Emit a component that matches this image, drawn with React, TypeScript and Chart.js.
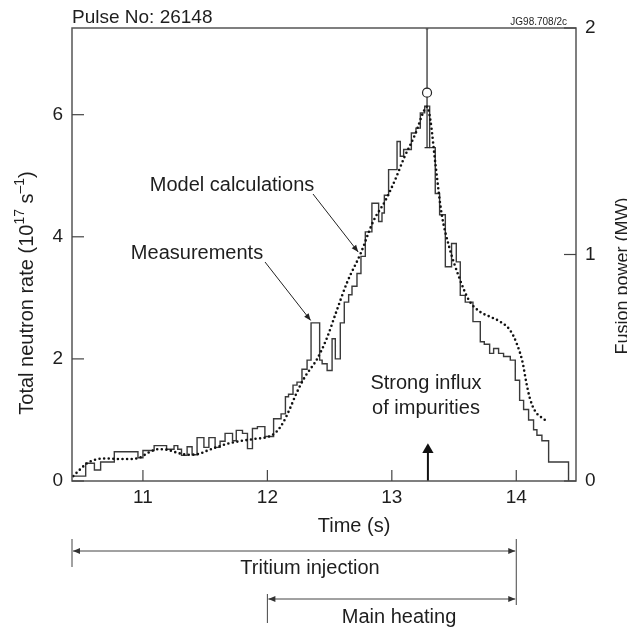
import React, { useEffect, useRef } from 'react';
import { Chart, registerables } from 'chart.js';

Chart.register(...registerables);

// ---- axis ranges & ticks ----
const xRange = [10.43, 14.48];
const leftRange = [0, 7.42];
const rightRange = [0, 2];
const xTicks = [11, 12, 13, 14];
const leftTicks = [0, 2, 4, 6];
const rightTicks = [0, 1, 2];

// ---- measured neutron rate (histogram steps: value starts at time) ----
const measTimes = [10.44, 10.54, 10.61, 10.66, 10.77, 10.96, 11.0, 11.09, 11.19, 11.25, 11.28, 11.31, 11.355, 11.395, 11.435, 11.49, 11.53, 11.58, 11.62, 11.66, 11.72, 11.75, 11.8, 11.84, 11.88, 11.92, 11.98, 12.05, 12.11, 12.145, 12.17, 12.206, 12.238, 12.278, 12.319, 12.351, 12.42, 12.44, 12.48, 12.52, 12.546, 12.586, 12.618, 12.653, 12.68, 12.72, 12.752, 12.787, 12.84, 12.894, 12.921, 12.94, 12.974, 13.042, 13.068, 13.095, 13.157, 13.194, 13.229, 13.264, 13.304, 13.349, 13.384, 13.43, 13.48, 13.518, 13.55, 13.59, 13.652, 13.711, 13.743, 13.786, 13.818, 13.858, 13.898, 13.952, 13.992, 14.027, 14.059, 14.099, 14.139, 14.166, 14.206, 14.26, 14.42];
const measValues = [0.08, 0.29, 0.18, 0.31, 0.48, 0.38, 0.5, 0.58, 0.52, 0.58, 0.52, 0.42, 0.56, 0.43, 0.71, 0.55, 0.71, 0.55, 0.65, 0.78, 0.66, 0.83, 0.78, 0.53, 0.86, 0.89, 0.73, 1.02, 1.1, 1.38, 1.42, 1.57, 1.62, 1.83, 1.98, 2.59, 1.98, 1.92, 1.81, 2.33, 2.0, 2.59, 2.93, 3.05, 3.19, 3.4, 3.68, 4.08, 4.55, 4.25, 4.39, 4.68, 5.1, 5.56, 5.32, 5.43, 5.7, 5.78, 6.03, 6.14, 5.46, 4.71, 4.36, 3.51, 3.89, 3.59, 3.04, 2.93, 2.61, 2.28, 2.24, 2.09, 2.17, 2.09, 2.04, 1.98, 1.65, 1.32, 1.17, 1.0, 0.84, 0.75, 0.66, 0.31, 0];

// ---- model calculation (dotted) ----
const modelTimes = [10.44, 10.5, 10.55, 10.62, 10.7, 10.8, 10.9, 10.97, 11.05, 11.12, 11.2, 11.28, 11.36, 11.44, 11.52, 11.6, 11.7, 11.8, 11.9, 12.0, 12.07, 12.13, 12.18, 12.23, 12.3, 12.4, 12.48, 12.55, 12.64, 12.75, 12.85, 12.95, 13.03, 13.1, 13.19, 13.255, 13.283, 13.31, 13.35, 13.4, 13.46, 13.54, 13.62, 13.71, 13.79, 13.87, 13.95, 14.0, 14.05, 14.08, 14.11, 14.15, 14.23];
const modelValues = [0.08, 0.2, 0.29, 0.35, 0.37, 0.36, 0.36, 0.38, 0.47, 0.52, 0.51, 0.46, 0.43, 0.44, 0.5, 0.56, 0.62, 0.66, 0.69, 0.72, 0.8, 0.97, 1.18, 1.42, 1.7, 2.0, 2.35, 2.75, 3.25, 3.73, 4.25, 4.6, 4.95, 5.3, 5.69, 6.05, 6.13, 5.91, 5.2, 4.38, 3.84, 3.34, 2.96, 2.77, 2.69, 2.61, 2.47, 2.27, 1.95, 1.62, 1.35, 1.15, 1.0];

// ---- peak point with error bar ----
const peakTime = 13.283;
const peakValue = 6.36;
const errLow = 5.46;
const errHigh = 7.42;
const errCapHalf = 0.02;

// ---- impurity influx arrow ----
const impurityTime = 13.29;
const impurityArrow = [0, 0.51];

// ---- annotation targets ----
const measArrowTip = [12.348, 2.63];
const modelArrowTip = [12.73, 3.75];
const tritiumSpan = [10.43, 14.0];
const heatingSpan = [12.0, 14.0];

const FONT = "'Liberation Sans', Arial, Helvetica, sans-serif";
const TEXT = '#1e1e1e';

function head(ctx: CanvasRenderingContext2D, x1: number, y1: number, x2: number, y2: number, len: number, w: number) {
  const a = Math.atan2(y2 - y1, x2 - x1);
  ctx.beginPath();
  ctx.moveTo(x2, y2);
  ctx.lineTo(x2 - len * Math.cos(a) + w * Math.sin(a), y2 - len * Math.sin(a) - w * Math.cos(a));
  ctx.lineTo(x2 - len * Math.cos(a) - w * Math.sin(a), y2 - len * Math.sin(a) + w * Math.cos(a));
  ctx.closePath();
  ctx.fill();
}

function line(ctx: CanvasRenderingContext2D, x1: number, y1: number, x2: number, y2: number) {
  ctx.beginPath();
  ctx.moveTo(x1, y1);
  ctx.lineTo(x2, y2);
  ctx.stroke();
}

const overlay = {
  id: 'overlay',
  afterDraw(chart: any) {
    const ctx: CanvasRenderingContext2D = chart.ctx;
    const ca = chart.chartArea;
    const xs = chart.scales.x;
    const ys = chart.scales.y;
    const ys1 = chart.scales.y1;
    ctx.save();

    // frame
    ctx.strokeStyle = '#555';
    ctx.lineWidth = 1.5;
    ctx.strokeRect(ca.left, ca.top, ca.right - ca.left, ca.bottom - ca.top);

    // inward ticks
    ctx.lineWidth = 1.2;
    ctx.strokeStyle = '#444';
    leftTicks.forEach((v) => {
      const y = ys.getPixelForValue(v);
      line(ctx, ca.left, y, ca.left + 12, y);
    });
    rightTicks.forEach((v) => {
      const y = ys1.getPixelForValue(v);
      line(ctx, ca.right - 12, y, ca.right, y);
    });
    xTicks.forEach((v) => {
      const x = xs.getPixelForValue(v);
      line(ctx, x, ca.bottom, x, ca.bottom - 11);
    });

    ctx.fillStyle = TEXT;
    ctx.textBaseline = 'middle';

    // header texts
    ctx.font = `19px ${FONT}`;
    ctx.textAlign = 'left';
    ctx.fillText('Pulse No: 26148', 72, 18);
    ctx.font = `10px ${FONT}`;
    ctx.textAlign = 'right';
    ctx.fillText('JG98.708/2c', 567, 22);

    // annotations in the plot
    ctx.font = `20px ${FONT}`;
    ctx.textAlign = 'center';
    ctx.fillText('Model calculations', 232, 185);
    ctx.fillText('Measurements', 197, 253);
    ctx.fillText('Strong influx', 426, 383);
    ctx.fillText('of impurities', 426, 408);

    ctx.strokeStyle = '#222';
    ctx.fillStyle = '#222';
    ctx.lineWidth = 1;
    {
      const tx = xs.getPixelForValue(modelArrowTip[0]);
      const ty = ys.getPixelForValue(modelArrowTip[1]);
      line(ctx, 313, 194, tx, ty);
      head(ctx, 313, 194, tx, ty, 7, 2.8);
    }
    {
      const tx = xs.getPixelForValue(measArrowTip[0]);
      const ty = ys.getPixelForValue(measArrowTip[1]);
      line(ctx, 265, 262, tx, ty);
      head(ctx, 265, 262, tx, ty, 7, 2.8);
    }

    // axis titles
    ctx.fillStyle = TEXT;
    ctx.font = `20px ${FONT}`;
    ctx.textAlign = 'center';
    ctx.fillText('Time (s)', 354, 526);

    // left title with superscripts
    ctx.save();
    ctx.translate(27, 293);
    ctx.rotate(-Math.PI / 2);
    const parts = [
      { t: 'Total neutron rate (10', sup: false },
      { t: '17', sup: true },
      { t: ' s', sup: false },
      { t: '–1', sup: true },
      { t: ')', sup: false },
    ];
    const big = `20px ${FONT}`;
    const small = `14px ${FONT}`;
    let total = 0;
    parts.forEach((p) => {
      ctx.font = p.sup ? small : big;
      total += ctx.measureText(p.t).width;
    });
    let cx = -total / 2;
    ctx.textAlign = 'left';
    parts.forEach((p) => {
      ctx.font = p.sup ? small : big;
      ctx.fillText(p.t, cx, p.sup ? -7 : 0);
      cx += ctx.measureText(p.t).width;
    });
    ctx.restore();

    // right title (partly cut by the right edge, as in the original)
    ctx.save();
    ctx.translate(623, 276);
    ctx.rotate(-Math.PI / 2);
    ctx.font = `18px ${FONT}`;
    ctx.textAlign = 'center';
    ctx.fillText('Fusion power (MW)', 0, 0);
    ctx.restore();

    // bottom spans
    const xl = xs.getPixelForValue(tritiumSpan[0]);
    const xr = xs.getPixelForValue(tritiumSpan[1]);
    const xh = xs.getPixelForValue(heatingSpan[0]);
    const xhr = xs.getPixelForValue(heatingSpan[1]);
    ctx.strokeStyle = '#444';
    ctx.fillStyle = '#333';
    ctx.lineWidth = 1;
    line(ctx, xl, 539, xl, 567);
    line(ctx, xr, 539, xr, 605);
    line(ctx, xh, 594, xh, 623);
    line(ctx, xl + 1, 551, xr - 1, 551);
    head(ctx, xr, 551, xl + 1, 551, 7, 3);
    head(ctx, xl, 551, xr - 1, 551, 7, 3);
    line(ctx, xh + 1, 599, xhr - 1, 599);
    head(ctx, xhr, 599, xh + 1, 599, 7, 3);
    head(ctx, xh, 599, xhr - 1, 599, 7, 3);

    ctx.fillStyle = TEXT;
    ctx.font = `20px ${FONT}`;
    ctx.textAlign = 'center';
    ctx.fillText('Tritium injection', 310, 568);
    ctx.fillText('Main heating', 399, 617);

    ctx.restore();
  },
};

export default function App() {
  const ref = useRef<HTMLCanvasElement | null>(null);

  useEffect(() => {
    if (!ref.current) return;
    const pts = (xs: number[], ys: number[]) => xs.map((x, i) => ({ x, y: ys[i] }));
    const tickFont = { family: FONT, size: 19 };
    const chart = new Chart(ref.current, {
      type: 'line',
      data: {
        datasets: [
          {
            label: 'peak',
            data: [{ x: peakTime, y: peakValue }],
            showLine: false,
            pointRadius: 4.5,
            pointBackgroundColor: '#fff',
            pointBorderColor: '#222',
            pointBorderWidth: 1.2,
            yAxisID: 'y',
          },
          {
            label: 'errbar',
            data: [{ x: peakTime, y: errLow }, { x: peakTime, y: errHigh }],
            borderColor: '#222',
            borderWidth: 1.2,
            pointRadius: 0,
            yAxisID: 'y',
          },
          {
            label: 'errcapLow',
            data: [{ x: peakTime - errCapHalf, y: errLow }, { x: peakTime + errCapHalf, y: errLow }],
            borderColor: '#222',
            borderWidth: 1.2,
            pointRadius: 0,
            yAxisID: 'y',
          },
          {
            label: 'errcapHigh',
            data: [{ x: peakTime - errCapHalf * 0.6, y: errHigh }, { x: peakTime + errCapHalf * 0.6, y: errHigh }],
            borderColor: '#999',
            borderWidth: 3,
            pointRadius: 0,
            yAxisID: 'y',
          },
          {
            label: 'impurity',
            data: [{ x: impurityTime, y: impurityArrow[0] }, { x: impurityTime, y: impurityArrow[1] }],
            borderColor: '#111',
            borderWidth: 2,
            pointRadius: [0, 6.5],
            pointStyle: 'triangle',
            pointBackgroundColor: '#111',
            pointBorderColor: '#111',
            pointBorderWidth: 0,
            yAxisID: 'y',
          },
          {
            label: 'Model calculations',
            data: pts(modelTimes, modelValues),
            borderColor: '#111',
            borderWidth: 2.6,
            borderDash: [0, 4.6],
            borderCapStyle: 'round',
            cubicInterpolationMode: 'monotone',
            pointRadius: 0,
            yAxisID: 'y',
          },
          {
            label: 'Measurements',
            data: pts(measTimes, measValues),
            borderColor: '#3a3a3a',
            borderWidth: 1.4,
            stepped: 'before',
            pointRadius: 0,
            yAxisID: 'y',
          },
        ],
      } as any,
      options: {
        responsive: false,
        animation: false,
        layout: { padding: { top: 28, left: 0, right: 0, bottom: 0 } },
        plugins: { legend: { display: false }, tooltip: { enabled: false } },
        scales: {
          x: {
            type: 'linear',
            min: xRange[0],
            max: xRange[1],
            grid: { display: false, drawTicks: false },
            border: { display: false },
            ticks: { font: tickFont, color: TEXT, padding: 5, maxRotation: 0, autoSkip: false },
            afterBuildTicks: (s: any) => { s.ticks = xTicks.map((v) => ({ value: v })); },
            afterFit: (s: any) => { s.height = 146; },
          },
          y: {
            type: 'linear',
            position: 'left',
            min: leftRange[0],
            max: leftRange[1],
            grid: { display: false, drawTicks: false },
            border: { display: false },
            ticks: { font: tickFont, color: TEXT, padding: 9 },
            afterBuildTicks: (s: any) => { s.ticks = leftTicks.map((v) => ({ value: v })); },
            afterFit: (s: any) => { s.width = 72; },
          },
          y1: {
            type: 'linear',
            position: 'right',
            min: rightRange[0],
            max: rightRange[1],
            grid: { display: false, drawTicks: false },
            border: { display: false },
            ticks: { font: tickFont, color: TEXT, padding: 9 },
            afterBuildTicks: (s: any) => { s.ticks = rightTicks.map((v) => ({ value: v })); },
            afterFit: (s: any) => { s.width = 51; },
          },
        },
      } as any,
      plugins: [overlay],
    });
    return () => chart.destroy();
  }, []);

  return (
    <div style={{ position: 'absolute', left: 0, top: 0, width: 627, height: 627, background: '#fff' }}>
      <canvas ref={ref} width={627} height={627} style={{ display: 'block' }} />
    </div>
  );
}
